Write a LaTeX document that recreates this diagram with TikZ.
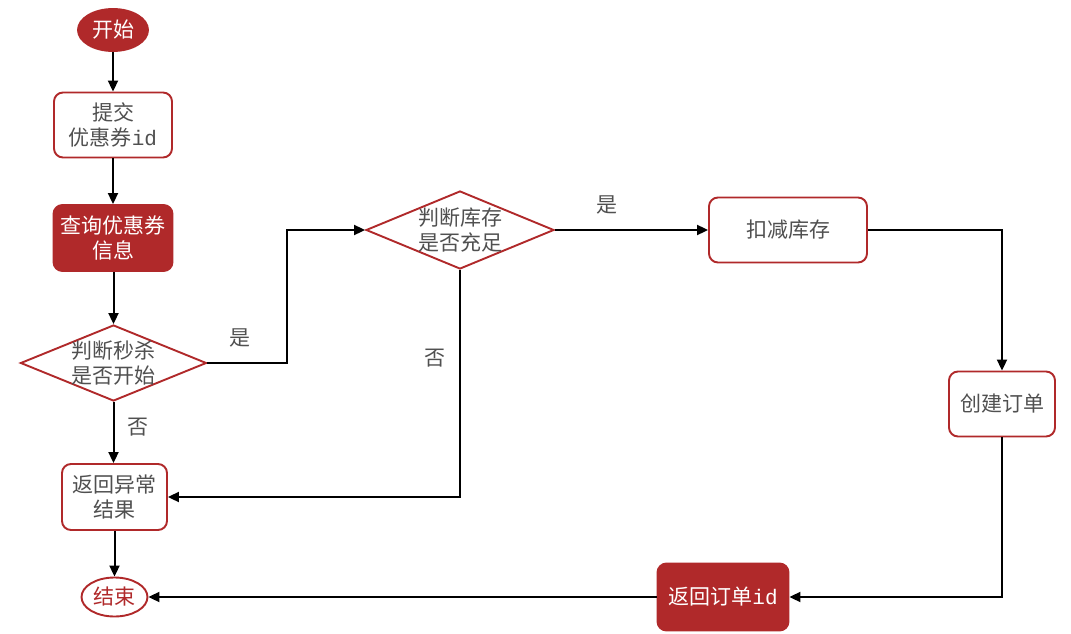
\documentclass[tikz,border=0pt]{standalone}
\usepackage{fontspec}
\setmainfont{Noto Sans CJK SC}
\newfontfamily\idmono{Liberation Mono}
\usetikzlibrary{shapes.geometric,arrows.meta}
\definecolor{fred}{HTML}{B0292A}
\definecolor{tgray}{HTML}{505050}
\tikzset{
  base/.style={font=\fontsize{21}{25}\selectfont, align=center, inner sep=0pt, line width=1.9pt},
  box/.style={base, draw=fred, fill=white, rounded corners=9pt, text=tgray},
  fbox/.style={base, draw=fred, fill=fred, rounded corners=9pt, text=white},
  term/.style={base, ellipse, draw=fred},
  dec/.style={base, diamond, draw=fred, fill=white, text=tgray},
  conn/.style={line width=2pt, -{Triangle[length=11pt,width=10pt]}},
  lbl/.style={font=\fontsize{21}{25}\selectfont, text=tgray, inner sep=0pt}
}
\begin{document}
\begin{tikzpicture}[x=1pt,y=-1pt]
\useasboundingbox (0,0) rectangle (1071,634);
\node[term, fill=fred, text=white, minimum width=70pt, minimum height=42pt] (start) at (113,30) {开始};
\node[box, minimum width=118pt, minimum height=65pt] (submit) at (113,125) {提交\\优惠券{\idmono id}};
\node[fbox, minimum width=119pt, minimum height=66pt] (query) at (113,238) {查询优惠券\\信息};
\node[dec, minimum width=186pt, minimum height=76pt] (d1) at (113.5,363) {};
\node[base, text=tgray] at (d1.center) {判断秒杀\\是否开始};
\node[box, minimum width=105pt, minimum height=66pt] (err) at (114.5,497) {返回异常\\结果};
\node[term, fill=white, text=fred, minimum width=66pt, minimum height=39pt] (end) at (114.5,597) {结束};
\node[dec, minimum width=188pt, minimum height=78pt] (d2) at (460,230) {};
\node[base, text=tgray] at (d2.center) {判断库存\\是否充足};
\node[box, minimum width=158pt, minimum height=65pt] (deduct) at (788,230) {扣减库存};
\node[box, minimum width=106pt, minimum height=65pt] (create) at (1002,404) {创建订单};
\node[fbox, minimum width=131pt, minimum height=67pt] (ret) at (723,597) {返回订单{\idmono id}};

\draw[conn] (start) -- (submit);
\draw[conn] (submit) -- (query);
\draw[conn] (query.south -| d1.south) -- (d1.north);
\draw[conn] (d1.south) -- (d1.south |- err.north);
\draw[conn] (err) -- (end);
\draw[conn] (d1.east) -- (287,363) |- (d2.west);
\draw[conn] (d2.south) |- (err.east);
\draw[conn] (d2.east) -- (deduct.west);
\draw[conn] (deduct.east) -| (create.north);
\draw[conn] (create.south) |- (ret.east);
\draw[conn] (ret.west) -- (end.east);

\node[lbl] (l1) at (240,338) {是};
\node[lbl] (l2) at (138,427) {否};
\node[lbl] (l3) at (607,205) {是};
\node[lbl] (l4) at (435,358) {否};
\end{tikzpicture}
\end{document}
